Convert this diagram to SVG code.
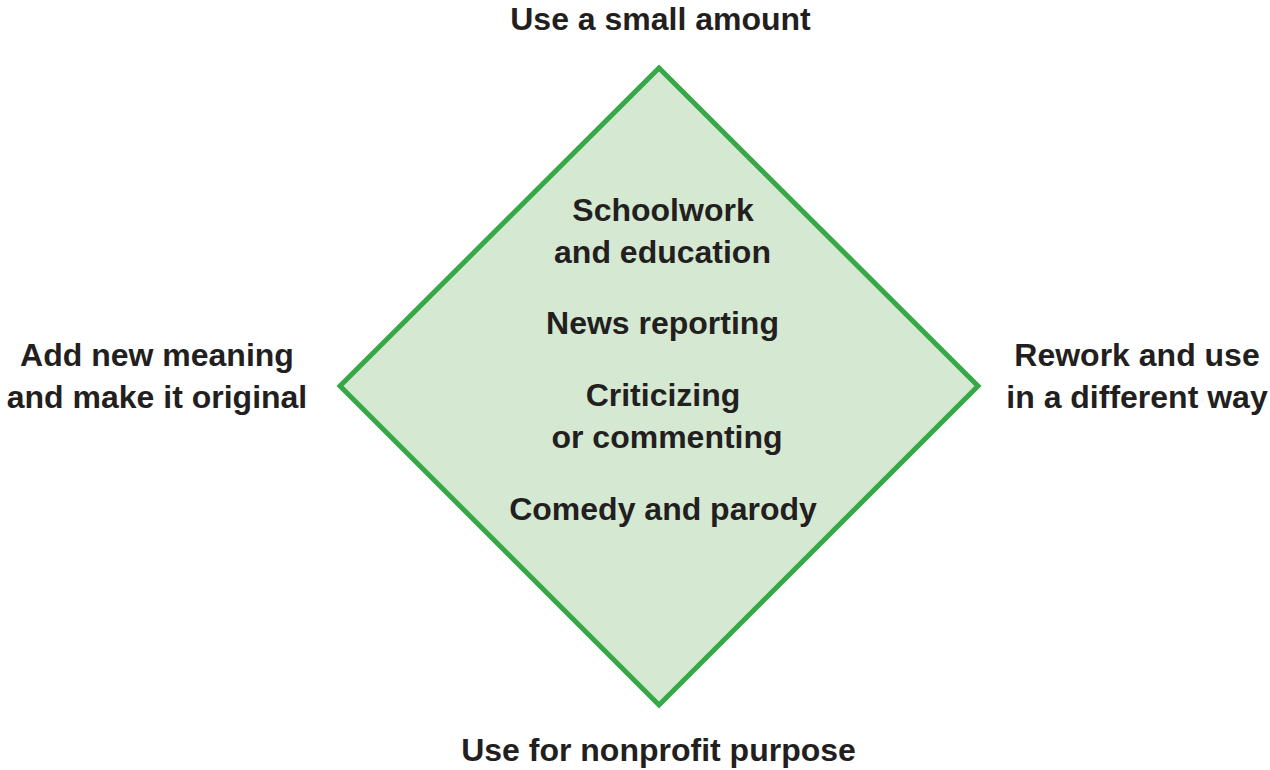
<svg xmlns="http://www.w3.org/2000/svg" width="1270" height="770" viewBox="0 0 1270 770">
<style>
.t{font-family:"Liberation Sans",Arial,sans-serif;font-weight:bold;font-size:32px;fill:#231f20;text-anchor:middle}
.d{fill:#d5e8d2;stroke:#37a847;stroke-width:5;stroke-linejoin:miter}
</style>
<rect width="1270" height="770" fill="#ffffff"/>
<g id="diamond">
<polygon class="d" points="659,68 978,386 659,705 340,386"/>
<text class="t" x="663" y="221">Schoolwork</text>
<text class="t" x="662.5" y="263">and education</text>
<text class="t" x="662.5" y="334">News reporting</text>
<text class="t" x="663" y="406">Criticizing</text>
<text class="t" x="667" y="448">or commenting</text>
<text class="t" x="663" y="520">Comedy and parody</text>
</g>
<g id="top"><text class="t" x="660.5" y="30">Use a small amount</text></g>
<g id="left"><text class="t" x="157" y="366">Add new meaning</text><text class="t" x="157" y="408">and make it original</text></g>
<g id="right"><text class="t" x="1137" y="366">Rework and use</text><text class="t" x="1137" y="408">in a different way</text></g>
<g id="bottom"><text class="t" x="658.5" y="761">Use for nonprofit purpose</text></g>
<g id="connectors"></g>
</svg>
